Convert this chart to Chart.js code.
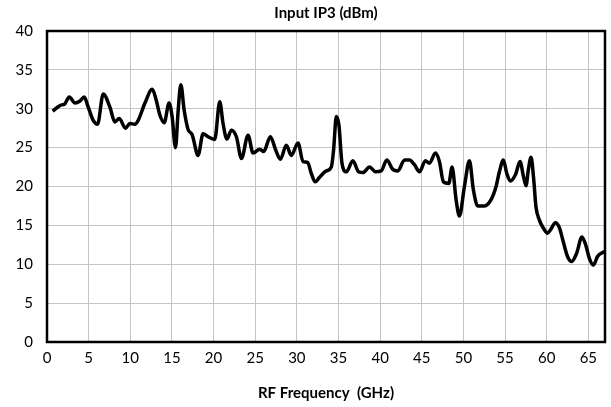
<!DOCTYPE html>
<html>
<head>
<meta charset="utf-8">
<script src="https://cdn.jsdelivr.net/npm/chart.js@4.4.1/dist/chart.umd.min.js"></script>
<style>
  html, body { margin: 0; padding: 0; background: #ffffff; }
  #wrap { width: 611px; height: 407px; position: relative; }
</style>
</head>
<body>
<div id="wrap"><canvas id="c" width="611" height="407"></canvas></div>
<script>
const chartTitle = "Input IP3 (dBm)";
const xAxisTitle = "RF Frequency  (GHz)";
const xTickValues = [0, 5, 10, 15, 20, 25, 30, 35, 40, 45, 50, 55, 60, 65];
const yTickValues = [0, 5, 10, 15, 20, 25, 30, 35, 40];

const freqGHz = [
  0.68,1.16,1.76,2.07,2.67,3.36,3.96,4.47,4.95,5.55,
  6.07,6.75,7.55,8.15,8.67,9.43,9.95,10.55,10.95,11.75,
  12.63,13.07,13.55,14.07,14.66,15.02,15.43,15.75,16.07,16.47,
  16.95,17.42,18.14,18.74,19.34,20.14,20.74,21.14,21.6,22.14,
  22.74,23.35,24.14,24.74,25.54,26.02,26.82,27.46,28.02,28.74,
  29.34,30.14,30.74,31.3,31.7,32.2,32.73,33.54,34.14,34.41,
  34.74,35.05,35.42,35.94,36.73,37.41,37.93,38.73,39.45,40.13,
  40.8,41.52,42.12,42.93,43.53,44.12,44.72,45.44,45.92,46.64,
  47.12,47.6,48.24,48.64,49.12,49.52,50.12,50.72,51.2,51.72,
  52.52,53.32,53.92,54.32,54.8,55.2,55.64,56.24,56.8,57.2,
  57.52,57.79,58.12,58.43,58.71,59.11,59.63,60.11,60.5,61.03,
  61.51,61.99,62.5,62.99,63.59,64.23,64.71,65.11,65.62,66.1,
  66.7,67
];
const inputIP3 = [
  29.7,30.1,30.5,30.55,31.5,30.75,31,31.5,30.2,28.5,
  28.0,31.9,30.2,28.3,28.75,27.5,28.1,28.0,28.5,30.7,
  32.5,31.3,29.2,28.2,30.75,29.0,25.0,29.8,33.1,29.8,
  27.3,26.7,24.0,26.8,26.4,26.05,30.9,28.1,26.1,27.25,
  26.4,23.6,26.6,24.3,24.8,24.5,26.4,24.7,23.5,25.3,
  24.0,25.6,23.2,23.1,21.8,20.6,21.2,22.0,22.5,24.7,
  29.0,27.9,23.0,21.9,23.3,21.9,21.8,22.5,21.9,22.0,
  23.4,22.2,22.0,23.4,23.4,22.8,21.9,23.3,23.0,24.3,
  23.2,20.6,20.4,22.5,18.3,16.2,20.0,23.3,19.55,17.5,
  17.5,18.3,20.0,21.9,23.4,21.7,20.7,21.5,23.2,21.35,
  20.1,22.1,23.75,21.05,17.4,15.7,14.6,14.0,14.5,15.35,
  14.75,12.9,11.0,10.35,11.4,13.5,12.4,10.8,9.9,11.0,
  11.5,11.6
];

const points = freqGHz.map((f, i) => ({ x: f, y: inputIP3[i] }));

const borderPlugin = {
  id: 'plotBorder',
  afterDraw(chart) {
    const { ctx, chartArea: a } = chart;
    ctx.save();
    ctx.strokeStyle = '#000000';
    ctx.lineWidth = 2.5;
    ctx.strokeRect(a.left, a.top, a.right - a.left, a.bottom - a.top);
    ctx.restore();
  }
};

const FONT = "Lato, 'Liberation Sans', sans-serif";

new Chart(document.getElementById('c'), {
  type: 'line',
  data: {
    datasets: [{
      data: points,
      borderColor: '#000000',
      borderWidth: 3.5,
      pointRadius: 0,
      fill: false,
      cubicInterpolationMode: 'monotone'
    }]
  },
  options: {
    responsive: false,
    animation: false,
    devicePixelRatio: 1,
    layout: { padding: { top: 0, right: 6, bottom: 0, left: 0 } },
    plugins: {
      legend: { display: false },
      tooltip: { enabled: false },
      title: {
        display: true,
        text: chartTitle,
        fullSize: false,
        color: '#000000',
        font: { family: FONT, size: 15, weight: 'bold' },
        padding: { top: 4, bottom: 9 }
      }
    },
    scales: {
      x: {
        type: 'linear',
        min: 0,
        max: 67,
        afterBuildTicks: s => { s.ticks = xTickValues.map(v => ({ value: v })); },
        afterFit: s => { s.height = 65; },
        grid: { color: '#c4c4c4', lineWidth: 1, drawTicks: false },
        border: { display: false },
        ticks: { color: '#000000', padding: 7, maxRotation: 0, autoSkip: false,
                 font: { family: FONT, size: 15 } },
        title: {
          display: true,
          text: xAxisTitle,
          color: '#000000',
          font: { family: FONT, size: 15, weight: 'bold' },
          padding: { top: 4, bottom: 5 }
        }
      },
      y: {
        type: 'linear',
        min: 0,
        max: 40,
        afterBuildTicks: s => { s.ticks = yTickValues.map(v => ({ value: v })); },
        afterFit: s => { s.width = 47; },
        grid: { color: '#c4c4c4', lineWidth: 1, drawTicks: false },
        border: { display: false },
        ticks: { color: '#000000', padding: 14, font: { family: FONT, size: 15 } }
      }
    }
  },
  plugins: [borderPlugin]
});
</script>
</body>
</html>
